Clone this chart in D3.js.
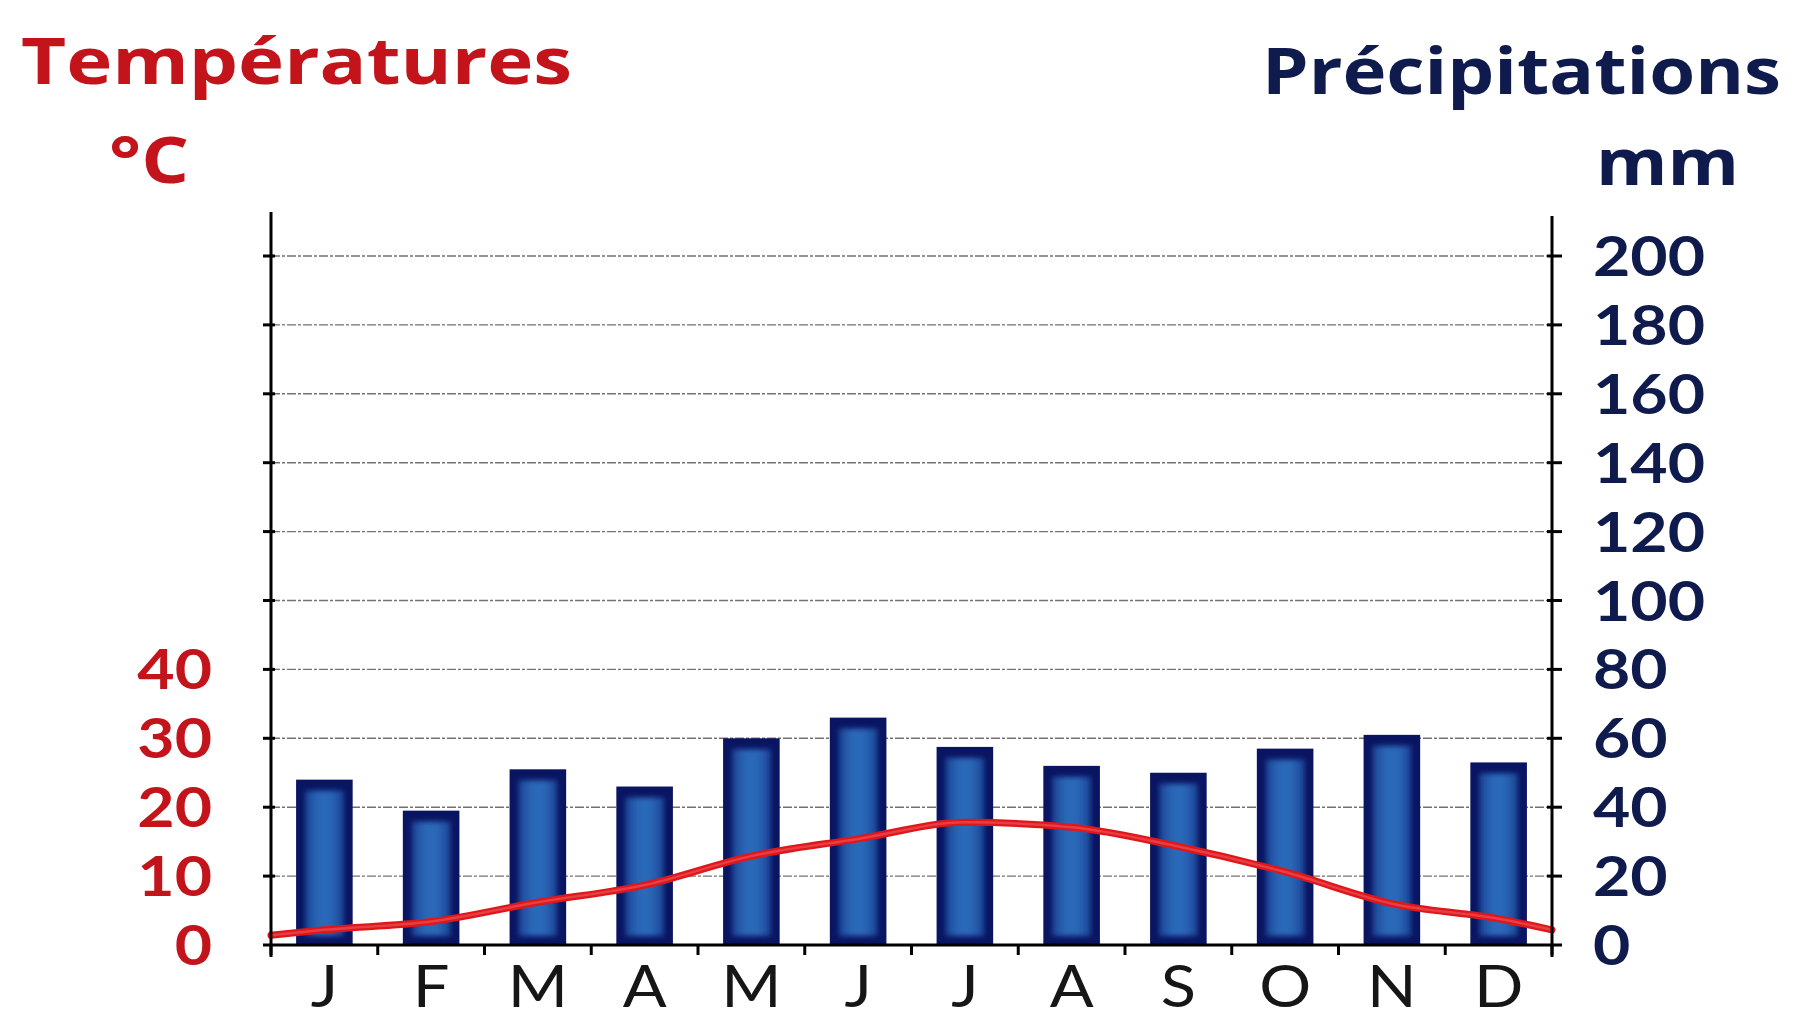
<!DOCTYPE html>
<html>
<head>
<meta charset="utf-8">
<script src="https://cdn.jsdelivr.net/npm/d3@7"></script>
<style>
  html, body { margin: 0; padding: 0; background: #ffffff; }
  svg { display: block; }
  text { font-family: "Open Sans", "Noto Sans", sans-serif; }
  text.num { font-family: Lato, "Open Sans", sans-serif; }
</style>
</head>
<body>
<svg id="chart" width="1794" height="1020"></svg>
<script>
// ---- data ----
const months = ["J", "F", "M", "A", "M", "J", "J", "A", "S", "O", "N", "D"];
const precipitation = [48, 39, 51, 46, 60, 66, 57.5, 52, 50, 57, 61, 53]; // mm
const temperature = [2.2, 3.4, 6.2, 8.7, 12.9, 15.4, 17.8, 17.1, 14.3, 10.6, 6.0, 3.8]; // °C
const temperatureEdges = [1.4, 2.2]; // °C at the left and right ends of the axis
const precipTicks = [0, 20, 40, 60, 80, 100, 120, 140, 160, 180, 200];
const tempTicks = [0, 10, 20, 30, 40];

// ---- layout ----
const pLeft = 271, pRight = 1552, pTop = 256, pBottom = 945;
const red = "#c3141b", navy = "#0f1b4c";

const svg = d3.select("#chart");
const x = d3.scaleBand().domain(d3.range(12)).range([pLeft, pRight]).paddingInner(0.47).paddingOuter(0.235);
const xb = d3.scaleBand().domain(d3.range(12)).range([pLeft, pRight]);
const yP = d3.scaleLinear().domain([0, 200]).range([pBottom, pTop]);
const yT = d3.scaleLinear().domain([0, 100]).range([pBottom, pTop]);

// defs: bar gradient + blur
const defs = svg.append("defs");
const g1 = defs.append("linearGradient").attr("id", "barGrad").attr("x1", "0").attr("x2", "1").attr("y1", "0").attr("y2", "0");
[["0%", "#1b4394"], ["35%", "#2c68b8"], ["65%", "#2c68b8"], ["100%", "#1b4394"]].forEach(([o, c]) =>
  g1.append("stop").attr("offset", o).attr("stop-color", c));
defs.append("filter").attr("id", "soft").attr("x", "-20%").attr("y", "-20%").attr("width", "140%").attr("height", "140%")
  .append("feGaussianBlur").attr("stdDeviation", 2.5);

// gridlines
svg.append("g").selectAll("line").data(precipTicks.filter(d => d > 0)).join("line")
  .attr("x1", pLeft).attr("x2", pRight)
  .attr("y1", d => yP(d)).attr("y2", d => yP(d))
  .attr("stroke", "#77706f").attr("stroke-width", 1.4).attr("stroke-dasharray", "9,2,3,2");

// bars
const bars = svg.append("g");
bars.selectAll("rect.outer").data(precipitation).join("rect").attr("class", "outer")
  .attr("x", (d, i) => x(i)).attr("width", x.bandwidth())
  .attr("y", d => yP(d)).attr("height", d => yP(0) - yP(d))
  .attr("fill", "#0a1562");
bars.selectAll("rect.inner").data(precipitation).join("rect").attr("class", "inner")
  .attr("x", (d, i) => x(i) + 9).attr("width", x.bandwidth() - 18)
  .attr("y", d => yP(d) + 11).attr("height", d => Math.max(0, yP(0) - yP(d) - 20))
  .attr("fill", "url(#barGrad)").attr("filter", "url(#soft)");

// temperature line
const tPts = [[pLeft, temperatureEdges[0]]]
  .concat(temperature.map((t, i) => [xb(i) + xb.bandwidth() / 2, t]))
  .concat([[pRight, temperatureEdges[1]]]);
const line = d3.line().x(d => d[0]).y(d => yT(d[1])).curve(d3.curveMonotoneX);
svg.append("path").attr("d", line(tPts)).attr("fill", "none")
  .attr("stroke", "#e0161b").attr("stroke-width", 7).attr("stroke-linecap", "round");
svg.append("path").attr("d", line(tPts)).attr("fill", "none")
  .attr("stroke", "#f28a8a").attr("stroke-width", 2.5).attr("opacity", 0.35);

// axes lines
const axisG = svg.append("g").attr("stroke", "#000");
axisG.append("line").attr("x1", pLeft).attr("x2", pLeft).attr("y1", pTop - 44).attr("y2", pBottom + 12).attr("stroke-width", 3);
axisG.append("line").attr("x1", pRight).attr("x2", pRight).attr("y1", pTop - 40).attr("y2", pBottom + 12).attr("stroke-width", 3);
axisG.append("line").attr("x1", pLeft - 8).attr("x2", pRight + 10).attr("y1", pBottom).attr("y2", pBottom).attr("stroke-width", 3);
// left/right ticks
axisG.selectAll("line.lt").data(precipTicks.filter(d => d > 0)).join("line").attr("class", "lt")
  .attr("x1", pLeft - 8).attr("x2", pLeft + 4).attr("y1", d => yP(d)).attr("y2", d => yP(d)).attr("stroke-width", 3);
axisG.selectAll("line.rt").data(precipTicks.filter(d => d > 0)).join("line").attr("class", "rt")
  .attr("x1", pRight - 5).attr("x2", pRight + 10).attr("y1", d => yP(d)).attr("y2", d => yP(d)).attr("stroke-width", 3);
// month boundary ticks
axisG.selectAll("line.mt").data(d3.range(13)).join("line").attr("class", "mt")
  .attr("x1", i => pLeft + i * xb.step()).attr("x2", i => pLeft + i * xb.step())
  .attr("y1", pBottom).attr("y2", pBottom + 10).attr("stroke-width", 3);

// tick labels
const sx = 1.15;
svg.append("g").selectAll("text").data(tempTicks).join("text").attr("class", "num")
  .attr("transform", d => `translate(${pLeft - 59},${yT(d) + 20}) scale(${sx},1)`)
  .attr("text-anchor", "end").attr("font-size", 56).attr("font-weight", 700).attr("fill", red)
  .text(d => d);
svg.append("g").selectAll("text").data(precipTicks).join("text").attr("class", "num")
  .attr("transform", d => `translate(${pRight + 41},${yP(d) + 20}) scale(${sx},1)`)
  .attr("text-anchor", "start").attr("font-size", 56).attr("font-weight", 700).attr("fill", navy)
  .text(d => d);

// month labels
svg.append("g").selectAll("text").data(months).join("text").attr("class", "num")
  .attr("transform", (d, i) => `translate(${xb(i) + xb.bandwidth() / 2},1007) scale(1.12,1)`)
  .attr("text-anchor", "middle").attr("font-size", 58).attr("font-weight", 400).attr("fill", "#161616")
  .text(d => d);

// titles
svg.append("text").attr("x", 21).attr("y", 84).attr("font-size", 64).attr("font-weight", 700).attr("fill", red)
  .attr("textLength", 551).attr("lengthAdjust", "spacingAndGlyphs").text("Températures");
svg.append("text").attr("x", 109).attr("y", 183).attr("font-size", 64).attr("font-weight", 700).attr("fill", red)
  .attr("textLength", 80).attr("lengthAdjust", "spacingAndGlyphs").text("°C");
svg.append("text").attr("x", 1262).attr("y", 94).attr("font-size", 64).attr("font-weight", 700).attr("fill", navy)
  .attr("textLength", 519).attr("lengthAdjust", "spacingAndGlyphs").text("Précipitations");
svg.append("text").attr("x", 1596).attr("y", 185).attr("font-size", 64).attr("font-weight", 700).attr("fill", navy)
  .attr("textLength", 143).attr("lengthAdjust", "spacingAndGlyphs").text("mm");
</script>
</body>
</html>
